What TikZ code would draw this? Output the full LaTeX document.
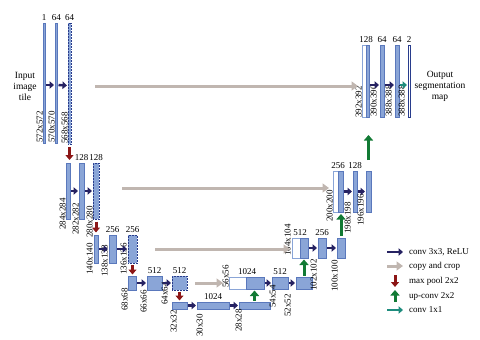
\documentclass[tikz,border=0pt]{standalone}
\usepackage{fontspec}
\setmainfont{Liberation Serif}
\usetikzlibrary{arrows.meta}
\definecolor{barfill}{RGB}{138,165,215}
\definecolor{barline}{RGB}{90,120,188}
\definecolor{dotline}{RGB}{40,60,140}
\definecolor{navyc}{RGB}{38,34,98}
\definecolor{copygray}{RGB}{192,182,176}
\definecolor{poolred}{RGB}{140,22,22}
\definecolor{upgreen}{RGB}{18,122,52}
\definecolor{tealc}{RGB}{30,140,125}
\tikzset{
 bar/.style={draw=barline, fill=barfill, line width=0.5pt, inner sep=0pt, outer sep=0pt},
 dbar/.style={bar, draw=dotline, densely dotted, line width=0.8pt},
 wbar/.style={draw=barfill, fill=white, line width=0.6pt, inner sep=0pt, outer sep=0pt},
 obar/.style={draw=dotline, fill=white, line width=0.5pt, inner sep=0pt, outer sep=0pt},
 conv/.style={draw=navyc, line width=2.4pt, -{Triangle[length=4.5pt,width=7.5pt]}, shorten <=1pt, shorten >=1pt},
 onebyone/.style={conv, draw=tealc},
 copyarr/.style={draw=copygray, line width=3pt, -{Triangle[length=6.5pt,width=9pt]}},
 pool/.style={draw=poolred, line width=3pt, -{Triangle[length=5pt,width=8pt]}},
 upc/.style={draw=upgreen, line width=3pt, -{Triangle[length=5.5pt,width=9pt]}},
 num/.style={font=\fontsize{9}{9}\selectfont, inner sep=0pt, anchor=south},
 sz/.style={font=\fontsize{9}{9}\selectfont, inner sep=0pt, rotate=90, anchor=south west},
 leg/.style={font=\fontsize{9}{9}\selectfont, inner sep=0pt, anchor=west},
 side/.style={font=\fontsize{9.5}{11}\selectfont, inner sep=0pt, align=center}
}
\newcommand\mkbar[6]{\node[#1, minimum width={(#4-(#3))*1pt}, minimum height={(#6-(#5))*1pt}] (#2) at ({(#3+#4)/2},{(#5+#6)/2}) {};}
\begin{document}
\begin{tikzpicture}[x=1pt,y=-1pt]
\useasboundingbox (0,0) rectangle (480,340);
% ---- contracting path
\mkbar{bar}{b1a}{43}{45}{23}{143}
\mkbar{bar}{b1b}{55}{57.5}{23}{143}
\mkbar{dbar}{b1c}{68}{71}{23}{144}
\mkbar{bar}{b2a}{66}{70}{163}{219}
\mkbar{bar}{b2b}{79}{84}{163}{219}
\mkbar{dbar}{b2c}{93}{99}{163}{219}
\mkbar{bar}{b3a}{94}{98}{235}{263}
\mkbar{bar}{b3b}{109}{116}{235}{263}
\mkbar{dbar}{b3c}{128}{137}{235}{263}
\mkbar{bar}{b4a}{128}{136}{276}{290}
\mkbar{bar}{b4b}{147}{162}{276}{290}
\mkbar{dbar}{b4c}{172}{187}{276}{290}
\mkbar{bar}{b5a}{172}{187}{302}{309}
\mkbar{bar}{b5b}{197}{229}{302}{309}
\mkbar{bar}{b5c}{239}{270}{302}{309}
% ---- expanding path
\mkbar{wbar}{u4w}{229}{246}{277}{289}
\mkbar{bar}{u4b}{246}{264}{277}{289}
\mkbar{bar}{u4c}{272}{288}{277}{289}
\mkbar{bar}{u4d}{296}{312}{277}{289}
\mkbar{wbar}{u3w}{292}{300}{238}{258}
\mkbar{bar}{u3b}{300}{308}{238}{258}
\mkbar{bar}{u3c}{318}{326}{238}{258}
\mkbar{bar}{u3d}{337}{345}{238}{258}
\mkbar{wbar}{u2w}{333}{338}{171}{212}
\mkbar{bar}{u2b}{338}{343}{171}{212}
\mkbar{bar}{u2c}{353}{357}{171}{212}
\mkbar{bar}{u2d}{366}{371}{171}{212}
\mkbar{wbar}{u1w}{362}{366}{45}{117}
\mkbar{bar}{u1b}{366}{369}{45}{117}
\mkbar{bar}{u1c}{380}{384}{45}{117}
\mkbar{bar}{u1d}{395}{399}{45}{117}
\mkbar{obar}{u1e}{408}{410}{45}{117}
% ---- channel numbers
\node[num] (t1a) at (44,21) {1};
\node[num] (t1b) at (56.5,21) {64};
\node[num] (t1c) at (69.5,21) {64};
\node[num] (t2b) at (81.5,161) {128};
\node[num] (t2c) at (96,161) {128};
\node[num] (t3b) at (112.5,233) {256};
\node[num] (t3c) at (132.5,233) {256};
\node[num] (t4b) at (154.5,274) {512};
\node[num] (t4c) at (179.5,274) {512};
\node[num] (t5b) at (213,300) {1024};
\node[num] (r4b) at (247,275) {1024};
\node[num] (r4c) at (280,275) {512};
\node[num] (r3b) at (300,236) {512};
\node[num] (r3c) at (322,236) {256};
\node[num] (r2b) at (338,169) {256};
\node[num] (r2c) at (355,169) {128};
\node[num] (r1b) at (366,43) {128};
\node[num] (r1c) at (382,43) {64};
\node[num] (r1d) at (397,43) {64};
\node[num] (r1e) at (409,43) {2};
% ---- sizes
\node[sz] (s1a) at (43,143) {572x572};
\node[sz] (s1b) at (55,143) {570x570};
\node[sz] (s1c) at (68,144) {568x568};
\node[sz] (s2a) at (66,230) {284x284};
\node[sz] (s2b) at (79,235) {282x282};
\node[sz] (s2c) at (93,238) {280x280};
\node[sz] (s3a) at (93,275) {140x140};
\node[sz] (s3b) at (108,277) {138x138};
\node[sz] (s3c) at (127,275) {136x136};
\node[sz] (s4a) at (128,311) {68x68};
\node[sz] (s4b) at (147,313) {66x66};
\node[sz] (s4c) at (168,305) {64x64};
\node[sz] (s5a) at (177,333) {32x32};
\node[sz] (s5b) at (203,337) {30x30};
\node[sz] (s5c) at (242,332) {28x28};
\node[sz] (q4a) at (229,288) {56x56};
\node[sz] (q4c) at (276,308) {54x54};
\node[sz] (q4d) at (291,317) {52x52};
\node[sz] (q3a) at (291,256) {104x104};
\node[sz] (q3c) at (317,291) {102x102};
\node[sz] (q3d) at (338,292) {100x100};
\node[sz] (q2a) at (333,222) {200x200};
\node[sz] (q2c) at (351,234) {198x198};
\node[sz] (q2d) at (364,226) {196x196};
\node[sz] (q1a) at (362,118) {392x392};
\node[sz] (q1c) at (377,117) {390x390};
\node[sz] (q1d) at (392,117) {388x388};
\node[sz] (q1e) at (405,117) {388x388};
% ---- side texts
\node[side] (inp) at (25,86) {Input\\image\\tile};
\node[side] (outp) at (440,86) {Output\\segmentation\\map};
% ---- conv arrows
\draw[conv] ([yshift=-2pt]b1a.east) -- ([yshift=-2pt]b1b.west);
\draw[conv] ([yshift=-2pt]b1b.east) -- ([yshift=-2pt]b1c.west);
\draw[conv] (b2a.east) -- (b2b.west);
\draw[conv] (b2b.east) -- (b2c.west);
\draw[conv] (b3a.east) -- (b3b.west);
\draw[conv] (b3b.east) -- (b3c.west);
\draw[conv] (b4a.east) -- (b4b.west);
\draw[conv] (b4b.east) -- (b4c.west);
\draw[conv] (b5a.east) -- (b5b.west);
\draw[conv] (b5b.east) -- (b5c.west);
\draw[conv] (u4b.east) -- (u4c.west);
\draw[conv] (u4c.east) -- (u4d.west);
\draw[conv] (u3b.east) -- (u3c.west);
\draw[conv] (u3c.east) -- (u3d.west);
\draw[conv] (u2b.east) -- (u2c.west);
\draw[conv] (u2c.east) -- (u2d.west);
\draw[conv] ([yshift=-4pt]u1b.east) -- ([yshift=-4pt]u1c.west);
\draw[conv] ([yshift=-4pt]u1c.east) -- ([yshift=-4pt]u1d.west);
\draw[onebyone] ([yshift=-4pt]u1d.east) -- ([yshift=-4pt]u1e.west);
% ---- copy and crop
\path ([yshift=-2.5pt]b1c.east) coordinate (c1s);
\draw[copyarr, shorten <=24pt, shorten >=4pt] (c1s) -- (c1s -| u1w.west);
\path ([yshift=3pt]b2c.east) coordinate (c2s);
\draw[copyarr, shorten <=23pt, shorten >=4pt] (c2s) -- (c2s -| u2w.west);
\draw[copyarr, shorten <=18pt, shorten >=2pt] (b3c.east) -- (b3c.east -| u3w.west);
\draw[copyarr, shorten <=8pt, shorten >=6pt] (b4c.east) -- (b4c.east -| u4w.west);
% ---- max pool
\draw[pool, shorten <=3pt, shorten >=3pt] (b1c.south) -- (b1c.south |- b2a.north);
\draw[pool, shorten <=2.5pt, shorten >=2.5pt] (b2c.south) -- (b2c.south |- b3a.north);
\draw[pool, shorten <=2pt, shorten >=1.5pt] (b3c.south) -- (b3c.south |- b4a.north);
\draw[pool, shorten <=1.5pt, shorten >=1.5pt] (b4c.south) -- (b4c.south |- b5a.north);
% ---- up-conv
\draw[upc, shorten <=1.5pt, shorten >=1.5pt] (b5c.north) -- (b5c.north |- u4b.south);
\draw[upc, shorten <=1.5pt, shorten >=1.5pt] (u4d.north) -- (u4d.north |- u3b.south);
\draw[upc, shorten <=2pt, shorten >=2pt] (u3d.north) -- (u3d.north |- u2b.south);
\draw[upc, shorten <=11pt, shorten >=18pt] (u2d.north) -- (u2d.north |- u1b.south);
% ---- legend
\node[leg] (lg1) at (409,252) {conv 3x3, ReLU};
\node[leg] (lg2) at (409,266) {copy and crop};
\node[leg] (lg3) at (409,281) {max pool 2x2};
\node[leg] (lg4) at (409,296) {up-conv 2x2};
\node[leg] (lg5) at (409,310) {conv 1x1};
\draw[conv] ([xshift=-23pt]lg1.west) -- ([xshift=-5pt]lg1.west);
\draw[copyarr] ([xshift=-22pt]lg2.west) -- ([xshift=-6pt]lg2.west);
\draw[pool] ([xshift=-14pt,yshift=6pt]lg3.west) -- ([xshift=-14pt,yshift=-6pt]lg3.west);
\draw[upc] ([xshift=-14pt,yshift=-6pt]lg4.west) -- ([xshift=-14pt,yshift=6pt]lg4.west);
\draw[onebyone] ([xshift=-23pt]lg5.west) -- ([xshift=-5pt]lg5.west);
\end{tikzpicture}
\end{document}
